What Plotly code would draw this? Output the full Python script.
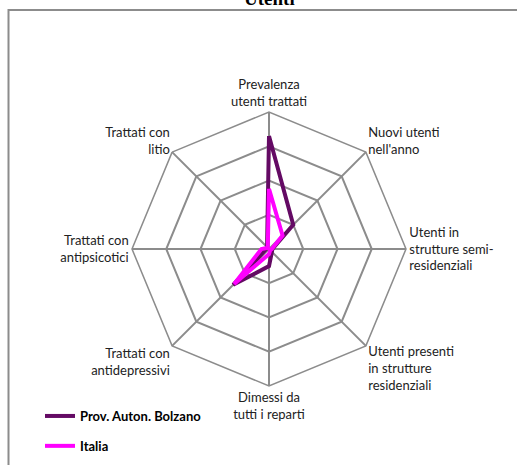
import plotly.graph_objects as go

# radar axes (clockwise from top)
categories = [
    "Prevalenza<br>utenti trattati",
    "Nuovi utenti<br>nell'anno",
    "Utenti in<br>strutture semi-<br>residenziali",
    "Utenti presenti<br>in strutture<br>residenziali",
    "Dimessi da<br>tutti i reparti",
    "Trattati con<br>antidepressivi",
    "Trattati con<br>antipsicotici",
    "Trattati con<br>litio",
]

# values (ring units, 4 rings)
bolzano = [3.3, 1.0, 0.1, 0.12, 0.5, 1.48, 0.08, 0.08]
italia = [1.76, 0.56, 0.08, 0.05, 0.15, 1.44, 0.22, 0.05]

DARK = "#640A64"
PINK = "#FF00FF"
GRID = "#8C8C8C"

fig = go.Figure()
fig.add_trace(go.Scatterpolar(
    r=bolzano + bolzano[:1],
    theta=categories + categories[:1],
    mode="lines",
    name="Prov. Auton. Bolzano",
    line=dict(color=DARK, width=4),
    legendgroup="bz",
))
fig.add_trace(go.Scatterpolar(
    r=italia + italia[:1],
    theta=categories + categories[:1],
    mode="lines",
    name="Italia",
    line=dict(color=PINK, width=4),
    legendgroup="it",
))

W, H = 517, 465
cx, cy, rad = 269, 249, 137

fig.update_layout(
    width=W,
    height=H,
    margin=dict(l=0, r=0, t=0, b=0),
    paper_bgcolor="white",
    showlegend=True,
    font=dict(family="Lato, Open Sans, sans-serif", size=13, color="#222222"),
    polar=dict(
        domain=dict(
            x=[(cx - rad) / W, (cx + rad) / W],
            y=[(H - cy - rad) / H, (H - cy + rad) / H],
        ),
        bgcolor="white",
        gridshape="linear",
        radialaxis=dict(
            range=[0, 4],
            dtick=1,
            showticklabels=False,
            ticks="",
            showline=False,
            gridcolor=GRID,
            gridwidth=1.5,
        ),
        angularaxis=dict(
            direction="clockwise",
            rotation=90,
            ticks="",
            showline=True,
            linecolor=GRID,
            linewidth=1.5,
            gridcolor=GRID,
            gridwidth=1.5,
            tickfont=dict(size=13, color="#222222"),
        ),
    ),
    legend=dict(
        x=40 / W, y=1 - 431 / H,
        xanchor="left", yanchor="middle",
        font=dict(family="Lato, Open Sans, sans-serif", size=13, color="#000000", weight="bold"),
        bgcolor="rgba(0,0,0,0)",
        tracegroupgap=10,
        traceorder="grouped",
    ),
    shapes=[dict(
        type="rect", xref="paper", yref="paper",
        x0=8.5 / W, x1=1.05, y0=-0.05, y1=1 - 10 / H,
        line=dict(color=GRID, width=2),
    )],
    annotations=[dict(
        text="<b>Utenti</b>",
        xref="paper", yref="paper",
        x=269 / W, y=1 - 11 / H,
        xanchor="center", yanchor="bottom",
        showarrow=False,
        font=dict(family="Liberation Serif, Times New Roman, serif", size=19, color="#000000"),
    )],
)

fig.write_html(
    "out.html",
    config={"displayModeBar": False},
    post_script="document.body.style.margin='0';",
)
